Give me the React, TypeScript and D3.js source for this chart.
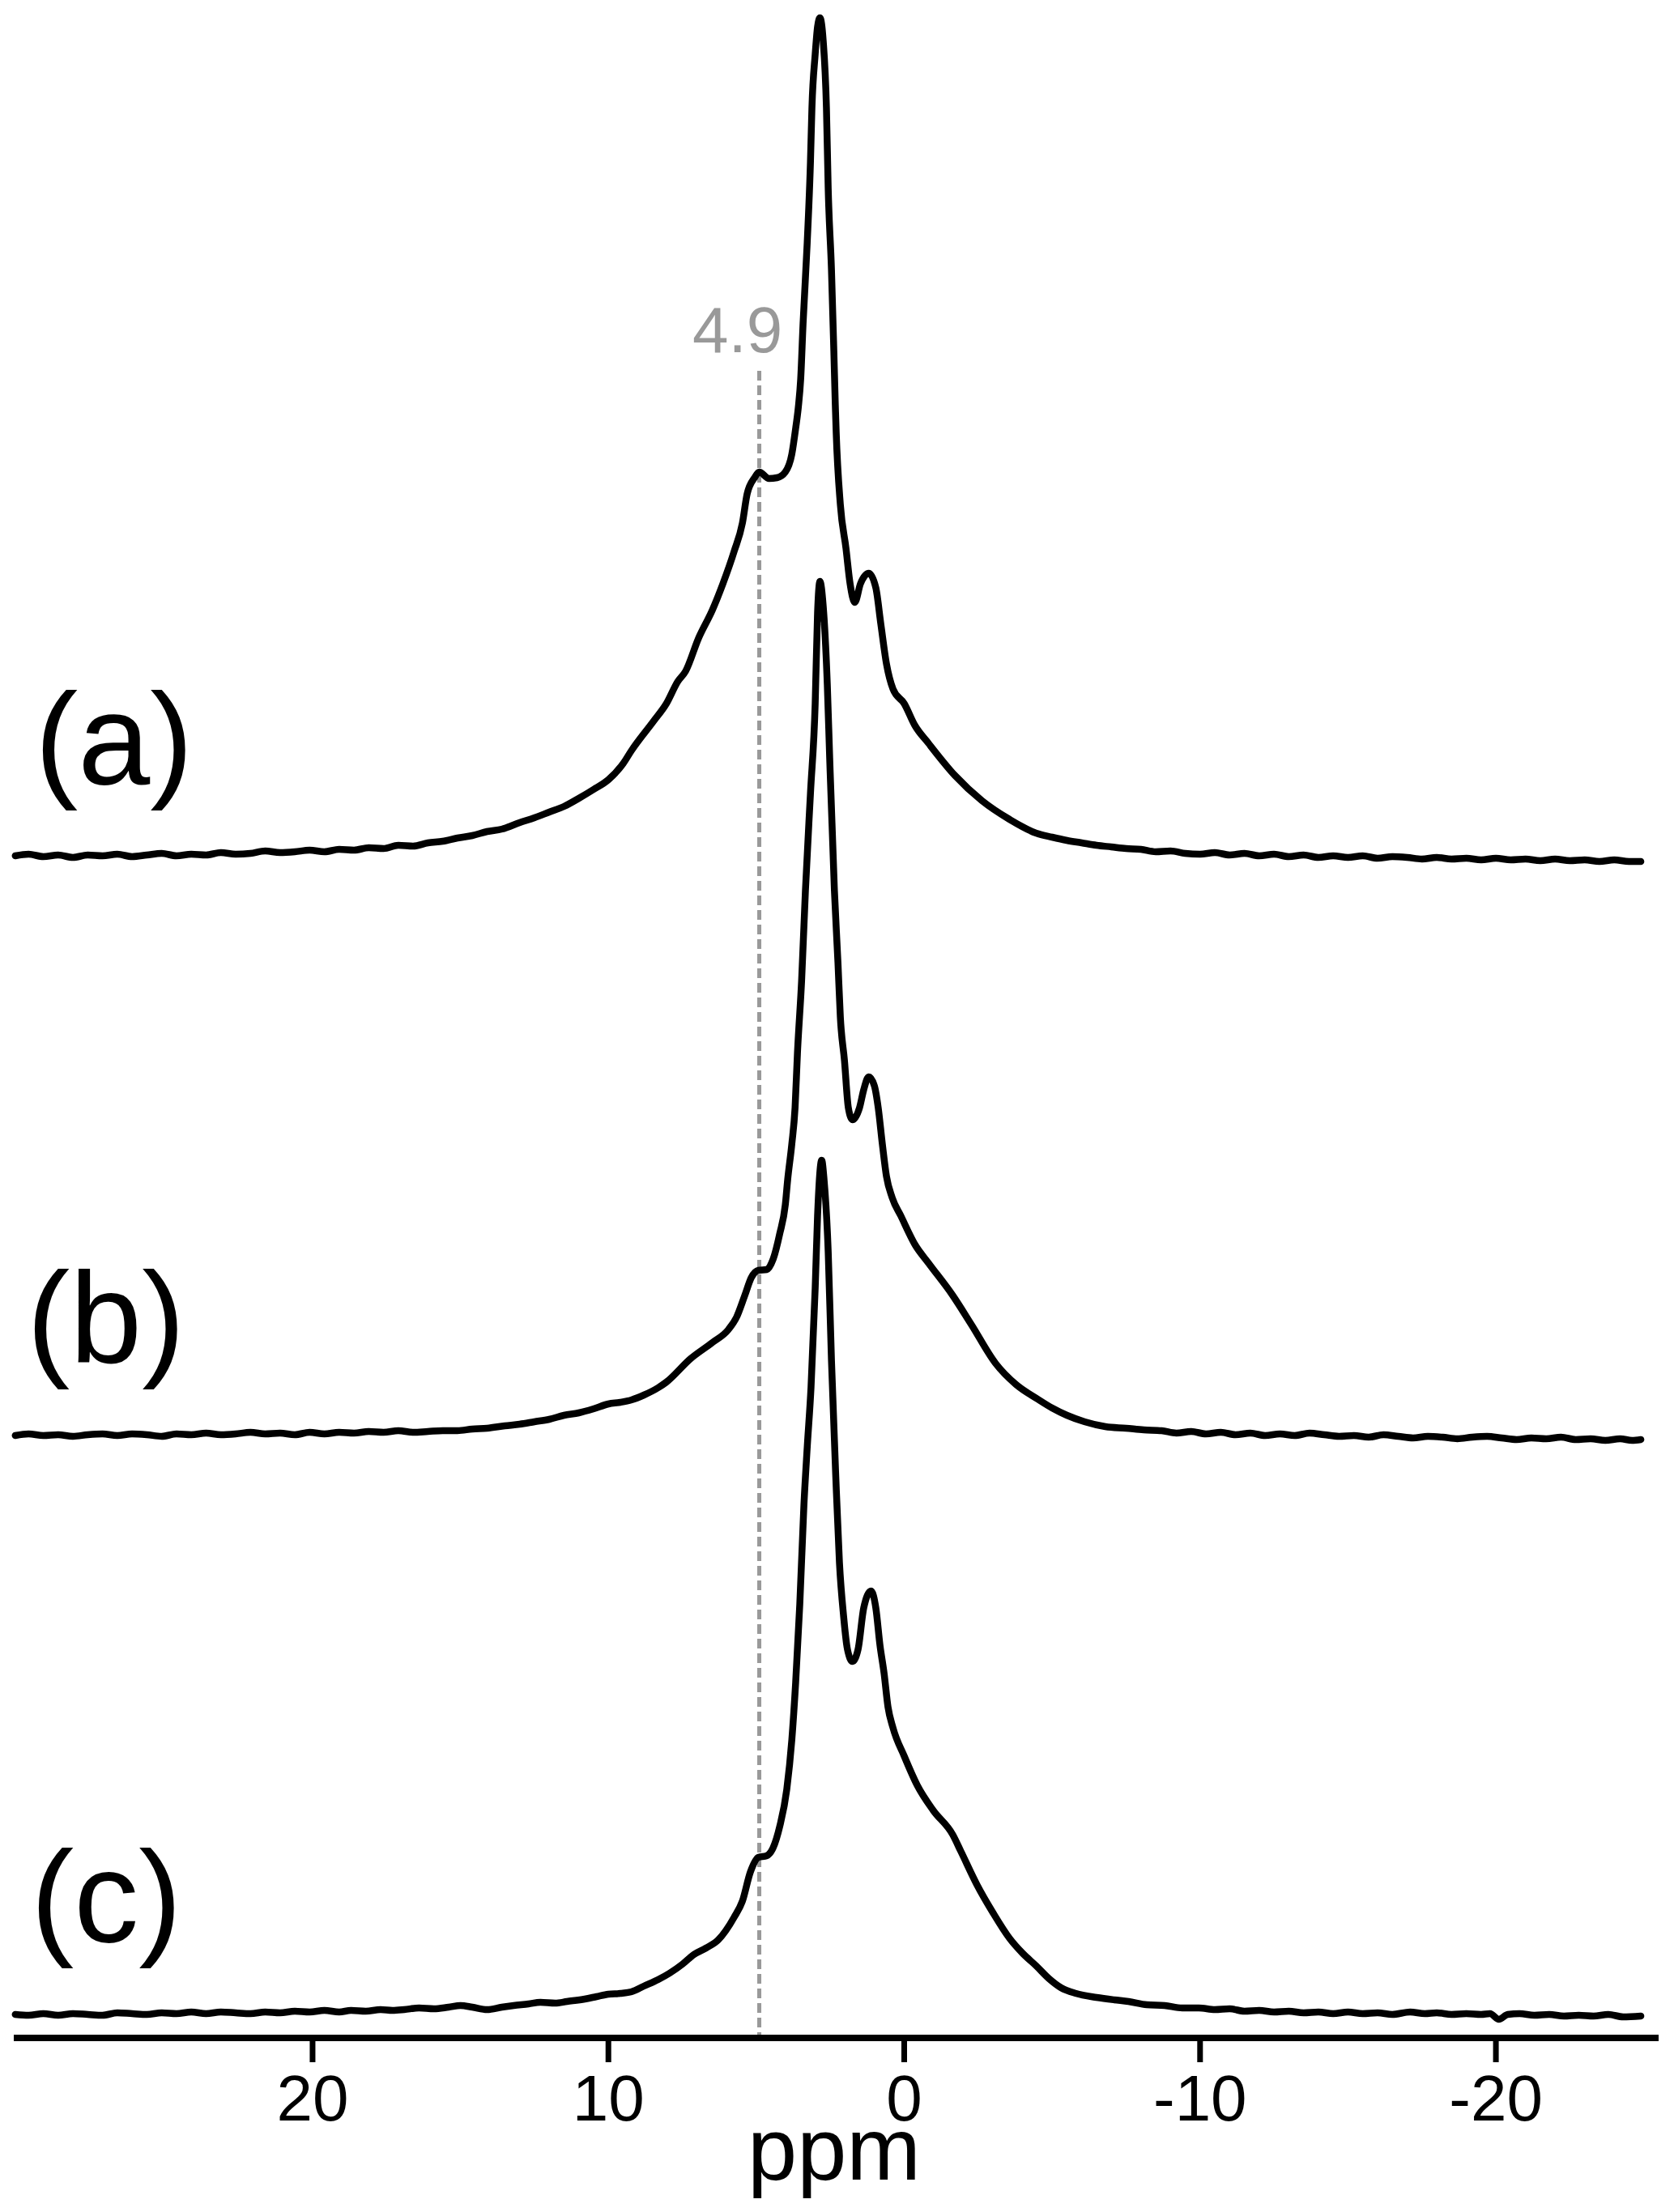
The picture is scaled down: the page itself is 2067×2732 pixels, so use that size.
import React from "react";
import * as d3 from "d3";

// ppm ticks and labels
const ppmTicks = [20, 10, 0, -10, -20];
const spectrumLabels = ["(a)", "(b)", "(c)"];
const markerPpm = 4.9;
const markerLabel = "4.9";
const axisTitle = "ppm";

// [ppm, intensity]
const spectrumA: [number, number][] = [
  [30.05, 1], [29.6, 3], [29.1, 0], [28.6, 2], [28.1, -1], [27.6, 2], [27.1, 1], [26.6, 3],
  [26.1, 0], [25.6, 2], [25.1, 4], [24.6, 1], [24.1, 3], [23.6, 2], [23.1, 5], [22.6, 3],
  [22.1, 4], [21.6, 7], [21.1, 5], [20.6, 6], [20.1, 8], [19.6, 6], [19.1, 9], [18.6, 8],
  [18.1, 11], [17.6, 10], [17.1, 14], [16.6, 13], [16.1, 17], [15.6, 19], [15.1, 23],
  [14.6, 26], [14.1, 31], [13.6, 34], [13, 42], [12.5, 48], [12, 55], [11.5, 62], [11, 72],
  [10.5, 83], [10, 95], [9.5, 115], [9.22, 131], [8.48, 167], [8.04, 189], [7.66, 216],
  [7.39, 229], [6.95, 270], [6.48, 305], [6.13, 337], [5.75, 377], [5.47, 412], [5.31, 448],
  [5.06, 468], [4.9, 475], [4.57, 467], [4.3, 468], [4.02, 475], [3.8, 497], [3.67, 529],
  [3.58, 555], [3.5, 590], [3.42, 658], [3.28, 758], [3.17, 858], [3.12, 925], [3.01, 991],
  [2.93, 1025], [2.85, 1036], [2.74, 1008], [2.63, 925], [2.57, 825], [2.46, 725],
  [2.38, 625], [2.33, 558], [2.3, 524], [2.16, 435], [1.97, 381], [1.83, 337], [1.67, 314],
  [1.48, 337], [1.2, 350], [0.96, 332], [0.79, 287], [0.6, 238], [0.38, 207], [0, 189],
  [-0.36, 162], [-0.82, 140], [-1.72, 100], [-2.63, 69], [-3.56, 46], [-4.46, 29],
  [-5, 24], [-5.5, 20], [-6, 17], [-6.5, 14], [-7, 12], [-7.5, 10], [-8, 9], [-8.5, 6],
  [-9, 7], [-9.5, 4], [-10, 3], [-10.5, 5], [-11, 2], [-11.5, 4], [-12, 1], [-12.5, 3],
  [-13, 0], [-13.5, 2], [-14, -1], [-14.5, 1], [-15, -1], [-15.5, 1], [-16, -2], [-16.5, 0],
  [-17, -1], [-17.5, -3], [-18, -1], [-18.5, -3], [-19, -2], [-19.5, -4], [-20, -2],
  [-20.5, -4], [-21, -3], [-21.5, -5], [-22, -3], [-22.5, -5], [-23, -4], [-23.5, -6],
  [-24, -4], [-24.5, -6], [-24.9, -6],
];

const spectrumB: [number, number][] = [
  [30.05, 0], [29.6, 2], [29.1, 0], [28.6, 1], [28.1, -1], [27.6, 1], [27.1, 2], [26.6, 0],
  [26.1, 2], [25.6, 1], [25.1, -1], [24.6, 2], [24.1, 1], [23.6, 3], [23.1, 1], [22.6, 2],
  [22.1, 4], [21.6, 2], [21.1, 3], [20.6, 1], [20.1, 4], [19.6, 2], [19.1, 4], [18.6, 3],
  [18.1, 5], [17.6, 4], [17.1, 6], [16.6, 4], [16.1, 5], [15.6, 6], [15.1, 6], [14.6, 8],
  [14.1, 9], [13.5, 12], [13, 14], [12.5, 17], [12, 20], [11.5, 25], [11, 28], [10.5, 33],
  [10, 39], [9.6, 41], [9.22, 44], [8.8, 50], [8.32, 59], [8.04, 66], [7.22, 95],
  [6.48, 115], [5.94, 131], [5.67, 146], [5.39, 173], [5.17, 195], [4.93, 204], [4.65, 205],
  [4.43, 218], [4.21, 249], [4.02, 285], [3.94, 316], [3.8, 360], [3.69, 405], [3.61, 472],
  [3.47, 561], [3.34, 673], [3.17, 793], [3.01, 904], [2.93, 1016], [2.85, 1055],
  [2.74, 1025], [2.6, 927], [2.52, 837], [2.36, 673], [2.24, 584], [2.16, 517], [2.02, 463],
  [1.89, 405], [1.75, 390], [1.51, 405], [1.37, 427], [1.2, 443], [1.01, 432], [0.88, 405],
  [0.74, 360], [0.6, 320], [0.41, 294], [0.11, 271], [-0.36, 236], [-0.82, 213],
  [-1.64, 173], [-2.27, 137], [-3.09, 89], [-3.78, 63], [-4.51, 45], [-5, 34], [-5.5, 25],
  [-6.1, 17], [-6.8, 11], [-7.5, 9], [-8.1, 7], [-8.7, 6], [-9.2, 3], [-9.7, 5], [-10.2, 2],
  [-10.7, 4], [-11.2, 1], [-11.7, 3], [-12.2, 0], [-12.7, 2], [-13.2, 0], [-13.7, 3],
  [-14.2, 1], [-14.7, -1], [-15.2, 0], [-15.7, -2], [-16.2, 1], [-16.7, -1], [-17.2, -3],
  [-17.7, -1], [-18.2, -2], [-18.7, -4], [-19.2, -2], [-19.7, -1], [-20.2, -3], [-20.7, -5],
  [-21.2, -3], [-21.7, -4], [-22.2, -2], [-22.7, -5], [-23.2, -4], [-23.7, -6], [-24.2, -4],
  [-24.6, -6], [-24.9, -5],
];

const spectrumC: [number, number][] = [
  [30.05, 0], [29.6, -1], [29.1, 1], [28.6, -1], [28.1, 1], [27.6, 0], [27.1, -1], [26.6, 2],
  [26.1, 1], [25.6, 0], [25.1, 2], [24.6, 1], [24.1, 3], [23.6, 1], [23.1, 3], [22.6, 2],
  [22.1, 1], [21.6, 3], [21.1, 2], [20.6, 4], [20.1, 3], [19.6, 5], [19.1, 3], [18.7, 5],
  [18.2, 4], [17.7, 6], [17.3, 5], [16.9, 6], [16.4, 8], [15.9, 7], [15.4, 9], [15, 11],
  [14.6, 9], [14.1, 6], [13.6, 9], [13.2, 11], [12.7, 13], [12.3, 15], [11.8, 14],
  [11.4, 16], [10.8, 19], [10.4, 22], [10, 25], [9.6, 26], [9.22, 28], [8.8, 35],
  [8.32, 43], [7.93, 51], [7.5, 62], [7.11, 74], [6.7, 82], [6.29, 92], [5.75, 120],
  [5.47, 140], [5.2, 176], [4.93, 194], [4.65, 196], [4.43, 206], [4.21, 232], [3.97, 278],
  [3.8, 339], [3.67, 410], [3.53, 507], [3.39, 630], [3.28, 700], [3.15, 775], [3.01, 897],
  [2.93, 986], [2.79, 1055], [2.71, 1031], [2.57, 942], [2.46, 808], [2.32, 670],
  [2.19, 558], [2.05, 492], [1.92, 451], [1.75, 436], [1.56, 451], [1.37, 502], [1.12, 523],
  [0.96, 502], [0.82, 456], [0.68, 421], [0.55, 380], [0.38, 354], [0, 319], [-0.44, 283],
  [-0.98, 252], [-1.64, 222], [-1.92, 201], [-2.46, 160], [-3.01, 125], [-3.56, 94],
  [-3.99, 76], [-4.46, 60], [-4.9, 44], [-5.3, 33], [-5.8, 26], [-6.5, 21], [-7.1, 18],
  [-7.58, 16], [-8.2, 12], [-8.8, 11], [-9.4, 8], [-9.96, 8], [-10.5, 6], [-11, 7],
  [-11.5, 4], [-12, 5], [-12.5, 3], [-13, 4], [-13.5, 2], [-14, 3], [-14.5, 1], [-15, 3],
  [-15.5, 1], [-16, 2], [-16.5, 0], [-17.1, 3], [-17.6, 1], [-18, 2], [-18.5, 0], [-19, 1],
  [-19.5, 0], [-19.8, 1], [-20.1, -6], [-20.4, 0], [-20.8, 1], [-21.3, -1], [-21.8, 0],
  [-22.3, -2], [-22.8, -1], [-23.3, -2], [-23.8, 0], [-24.3, -3], [-24.9, -2],
];

const spectra = [spectrumA, spectrumB, spectrumC];

export default function App() {
  const W = 2067;
  const H = 2732;
  const axisY = 2517;
  const baselines = [1058, 1773, 2488];
  const labelX = [43, 33, 38];

  const x = d3.scaleLinear().domain([30.1, -25.5]).range([17, 2048]);
  const y = d3.scaleLinear().domain([0, 1000]).range([0, -1000]);
  const line = d3
    .line<[number, number]>()
    .x((d) => x(d[0]))
    .y((d) => y(d[1]))
    .curve(d3.curveMonotoneX);

  const font = "'Liberation Sans', Arial, Helvetica, sans-serif";
  const mx = x(markerPpm);

  return (
    <svg
      width={W}
      height={H}
      viewBox={`0 0 ${W} ${H}`}
      style={{ position: "absolute", left: 0, top: 0, background: "#fff" }}
      fontFamily={font}
    >
      <rect x={0} y={0} width={W} height={H} fill="#fff" />
      {/* marker */}
      <line
        x1={mx}
        x2={mx}
        y1={458}
        y2={axisY - 4}
        stroke="#999"
        strokeWidth={5}
        strokeDasharray="12 6"
      />
      <text x={mx - 27} y={435} fontSize={80} fill="#999" textAnchor="middle">
        {markerLabel}
      </text>

      {spectra.map((s, i) => (
        <g key={i} transform={`translate(0,${baselines[i]})`}>
          <path
            d={line(s) || ""}
            fill="none"
            stroke="#000"
            strokeWidth={8.5}
            strokeLinejoin="round"
            strokeLinecap="round"
          />
          <text x={labelX[i]} y={-90} fontSize={160} fill="#000">
            {spectrumLabels[i]}
          </text>
        </g>
      ))}

      {/* axis */}
      <line x1={x.range()[0]} x2={x.range()[1]} y1={axisY} y2={axisY} stroke="#000" strokeWidth={8} />
      {ppmTicks.map((t) => (
        <g key={t} transform={`translate(${x(t)},0)`}>
          <line y1={axisY} y2={axisY + 30} stroke="#000" strokeWidth={7} />
          <text y={2619} fontSize={80} textAnchor="middle" fill="#000">
            {t}
          </text>
        </g>
      ))}
      <text x={1030} y={2692} fontSize={110} textAnchor="middle" fill="#000">
        {axisTitle}
      </text>
    </svg>
  );
}
